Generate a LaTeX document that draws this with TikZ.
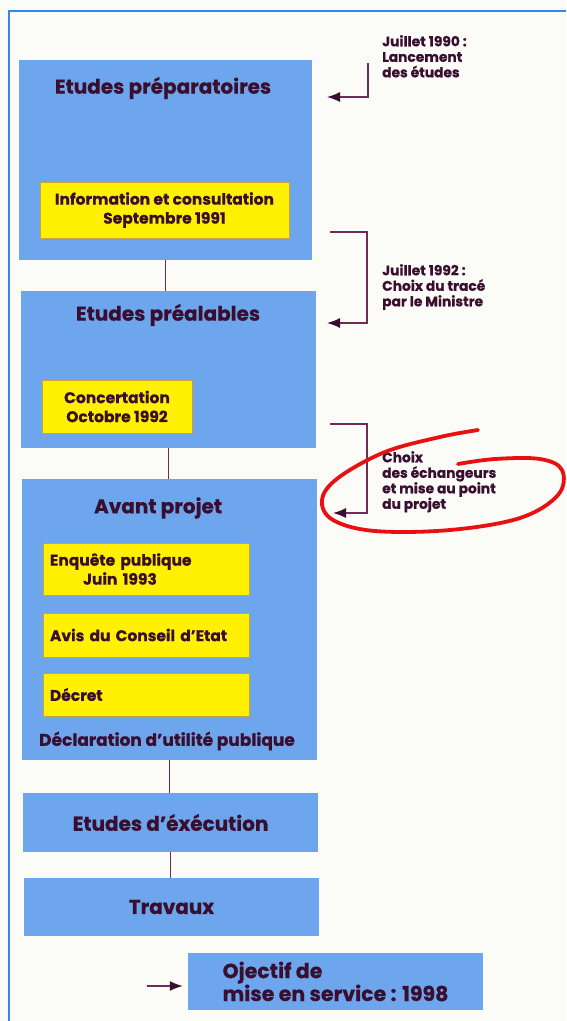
\documentclass[tikz,border=0pt]{standalone}
\usepackage{fontspec}
\setmainfont{Poppins}[BoldFeatures={FakeBold=0.6}]
\usetikzlibrary{arrows.meta,positioning}
\definecolor{paper}{RGB}{251,251,247}
\definecolor{frameblue}{RGB}{48,135,238}
\definecolor{phaseblue}{RGB}{110,166,238}
\definecolor{jalonyellow}{RGB}{255,241,0}
\definecolor{jalonedge}{RGB}{200,165,60}
\definecolor{inkpurple}{RGB}{58,14,46}
\definecolor{linkpurple}{RGB}{112,44,88}
\definecolor{markred}{RGB}{232,16,16}
\tikzset{
	phase/.style={fill=phaseblue, inner sep=0pt, text=inkpurple, align=left, font=\fontsize{20}{21}\selectfont\bfseries},
	titre/.style={inner sep=0pt, text=inkpurple, font=\fontsize{20}{21}\selectfont\bfseries},
	jalon/.style={fill=jalonyellow, draw=jalonedge, line width=0.6pt, inner sep=0pt, align=center, text=inkpurple, font=\fontsize{15.5}{19}\selectfont\bfseries},
	note/.style={anchor=north west, inner sep=0pt, align=left, text=inkpurple, font=\fontsize{13.8}{15.5}\selectfont\bfseries},
	link/.style={draw=linkpurple, line width=1.4pt},
	pointer/.style={draw=linkpurple, line width=1.4pt, -{Latex[length=13pt,width=10pt,color=inkpurple]}},
	framebox/.style={draw=frameblue, line width=2pt},
}

\begin{document}
\begin{tikzpicture}[x=1pt, y=-1pt]
	%%%%% START %%%%%
	\fill[paper] (0,0) rectangle (566,1021);
	\useasboundingbox (0,0) rectangle (566,1021);

	\draw[framebox] (566,11) -- (9,11) -- (9,1021);

	% phases
	\node[phase, minimum width=293pt, minimum height=200pt] (b1) at (165.5,160) {};
	\node[titre] (t1) at (163,88) {Etudes préparatoires};
	\node[jalon, minimum width=249pt, minimum height=56pt] (j1) at (164.5,210) {Information et consultation\\Septembre 1991};

	\node[phase, minimum width=295pt, minimum height=157pt] (b2) at (168.5,369.5) {};
	\node[titre] (t2) at (168,315) {Etudes préalables};
	\node[jalon, minimum width=150pt, minimum height=53pt] (j2) at (117,406.5) {Concertation\\Octobre 1992};

	\node[phase, minimum width=295pt, minimum height=281pt] (b3) at (169.5,619.5) {};
	\node[titre] (t3) at (158,508) {Avant projet};
	\node[jalon, minimum width=206pt, minimum height=52pt, text width=192pt, align=left] (j3) at (146,569) {Enquête publique\\\hspace*{33pt}Juin 1993};
	\node[jalon, minimum width=206pt, minimum height=44pt, text width=192pt, align=left] (j4) at (146,635) {Avis du Conseil d'Etat};
	\node[jalon, minimum width=206pt, minimum height=43pt, text width=192pt, align=left] (j5) at (146,694.5) {Décret};
	\node[titre, font=\fontsize{17}{18}\selectfont\bfseries] (d3) at (167,741) {Déclaration d'utilité publique};

	\node[phase, minimum width=295pt, minimum height=59pt] (b4) at (170.5,822.5) {Etudes d'éxécution};
	\node[phase, minimum width=295pt, minimum height=58pt] (b5) at (171.5,907) {Travaux};
	\node[phase, minimum width=295pt, minimum height=57pt, font=\fontsize{20.5}{20.5}\selectfont\bfseries] (b6) at (335.5,981.5) {Ojectif de\\mise en service : 1998};

	\draw[link] (b1.south) -- (b1.south |- b2.north);
	\draw[link] (b2.south) -- (b2.south |- b3.north);
	\draw[link] (b3.south) -- (b3.south |- b4.north);
	\draw[link] (b4.south) -- (b4.south |- b5.north);

	% dates
	\node[note] (n1) at (382,35) {Juillet 1990 :\\Lancement\\des études};
	\coordinate (k1) at (368,63);
	\coordinate (e1) at (327,97);
	\draw[pointer] (k1) |- (e1);

	\node[note] (n2) at (382,264) {Juillet 1992 :\\Choix du tracé\\par le Ministre};
	\coordinate (k2) at (330,232);
	\coordinate (e2) at (327,323);
	\draw[pointer] (k2) -- ++(37,0) |- (e2);

	\node[note] (n3) at (382,451) {Choix\\des échangeurs\\et mise au point\\du projet};
	\coordinate (k3) at (330,424);
	\coordinate (e3) at (333,513);
	\draw[pointer] (k3) -- ++(37,0) |- (e3);

	\coordinate (k4) at (147,986);
	\draw[pointer, shorten >=5pt] (k4) -- ([yshift=-4.5pt]b6.west);

	% hand drawn mark
	\draw[markred, line width=3.8pt, line cap=round] plot[smooth, tension=0.6] coordinates {(478,430) (440,437) (385,452) (338,478) (322,500) (333,520) (375,531) (450,530) (520,518) (558,495) (562,470) (540,459) (495,459) (458,464)};

	%%%%% END %%%%%
\end{tikzpicture}
\end{document}
